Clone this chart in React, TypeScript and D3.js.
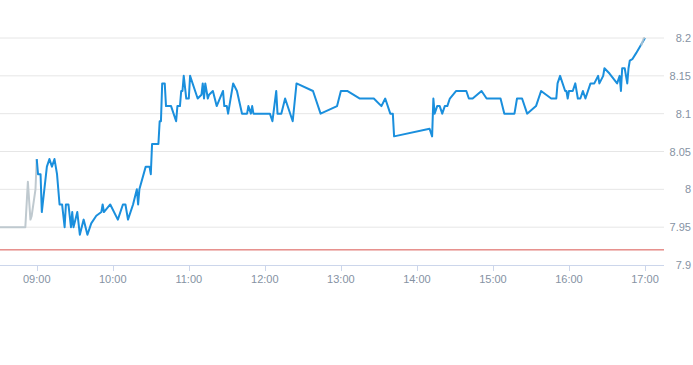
import React from "react";
import * as d3 from "d3";

// Pre-market (gray) series: [time, price]
const preTimes = ["08:31", "08:51", "08:53", "08:55", "08:56", "08:59", "09:00"];
const preValues = [7.95, 7.95, 8.01, 7.96, 7.965, 8.0, 8.04];

// Post segment (gray, overlapping the end)
const postTimes = ["16:57", "16:59", "17:00"];
const postValues = [8.19, 8.2, 8.2];

// Main session (blue): minutes after 09:00 and price
const mainMinutes = [
  0, 1, 3, 4, 8, 10, 12, 14, 16, 18, 20, 22, 23, 25, 27, 28, 29, 32, 34, 37, 40, 43, 47, 51, 52, 53, 58,
  64, 68, 70, 72, 76, 79, 80, 81, 86, 89, 90, 91, 96, 97, 98, 99, 101, 102, 106, 110, 111, 113, 114, 115,
  116, 118, 120, 121, 125, 127, 130, 131, 132, 133, 135, 136, 139, 142, 147, 148, 150, 151, 155, 158, 162,
  166, 167, 169, 170, 171, 184, 186, 189, 190, 193, 196, 202, 205, 218, 224, 237, 240, 245, 255, 266, 272,
  275, 279, 281, 282, 310, 312, 313, 314, 316, 318, 320, 322, 324, 326, 331, 339, 341, 344, 351, 355, 366,
  369, 377, 379, 383, 387, 394, 398, 406, 410, 411, 413, 417, 418, 419, 420, 423, 425, 427, 429, 431, 433,
  437, 440, 443, 444, 447, 448, 452, 458, 460, 461, 462, 464, 466, 467, 468, 470, 473, 480,
];
const mainValues = [
  8.04, 8.02, 8.02, 7.97, 8.03, 8.04, 8.03, 8.04, 8.02, 7.98, 7.98, 7.95, 7.98, 7.98, 7.95, 7.97, 7.95,
  7.97, 7.94, 7.96, 7.94, 7.955, 7.965, 7.97, 7.98, 7.97, 7.98, 7.96, 7.98, 7.98, 7.96, 7.98, 8.0, 7.98,
  8.0, 8.03, 8.03, 8.02, 8.06, 8.06, 8.09, 8.09, 8.14, 8.14, 8.11, 8.11, 8.09, 8.11, 8.11, 8.13, 8.13,
  8.15, 8.12, 8.12, 8.15, 8.13, 8.12, 8.125, 8.14, 8.12, 8.14, 8.12, 8.125, 8.13, 8.11, 8.13, 8.11, 8.11,
  8.1, 8.14, 8.13, 8.1, 8.1, 8.11, 8.1, 8.11, 8.1, 8.1, 8.09, 8.13, 8.1, 8.1, 8.12, 8.09, 8.14, 8.13, 8.1,
  8.11, 8.13, 8.13, 8.12, 8.12, 8.11, 8.12, 8.1, 8.1, 8.07, 8.08, 8.07, 8.12, 8.1, 8.11, 8.11, 8.1, 8.11,
  8.11, 8.12, 8.13, 8.13, 8.12, 8.12, 8.13, 8.12, 8.12, 8.1, 8.1, 8.12, 8.12, 8.1, 8.11, 8.13, 8.12, 8.12,
  8.14, 8.15, 8.13, 8.13, 8.12, 8.13, 8.13, 8.14, 8.12, 8.12, 8.13, 8.12, 8.14, 8.14, 8.15, 8.14, 8.15,
  8.16, 8.153, 8.14, 8.15, 8.13, 8.16, 8.16, 8.14, 8.16, 8.17, 8.172, 8.18, 8.2,
];

const refLevel = 7.92;
const yTicks = [7.9, 7.95, 8.0, 8.05, 8.1, 8.15, 8.2];
const yTickLabels = ["7.9", "7.95", "8", "8.05", "8.1", "8.15", "8.2"];
const xTickLabels = ["09:00", "10:00", "11:00", "12:00", "13:00", "14:00", "15:00", "16:00", "17:00"];
const domainStart = "08:31";
const domainEnd = "17:15";

const W = 693;
const H = 365;

const toMin = (s: string) => {
  const [h, m] = s.split(":").map(Number);
  return h * 60 + m;
};

export default function App() {
  const plotLeft = 0;
  const plotRight = 664;
  const plotTop = 38;
  const plotBottom = 265;

  const x = d3.scaleLinear().domain([toMin(domainStart), toMin(domainEnd)]).range([plotLeft, plotRight]);
  const y = d3.scaleLinear().domain([7.9, 8.2]).range([plotBottom, plotTop]);

  const line = d3
    .line<[number, number]>()
    .x((d) => x(d[0]))
    .y((d) => y(d[1]));

  const pre: [number, number][] = preTimes.map((t, i) => [toMin(t), preValues[i]]);
  const post: [number, number][] = postTimes.map((t, i) => [toMin(t), postValues[i]]);
  const main: [number, number][] = mainMinutes.map((m, i) => [toMin("09:00") + m, mainValues[i]]);

  const font = "'Liberation Sans', Arial, sans-serif";
  const labelColor = "#8592a3";

  return (
    <svg
      width={W}
      height={H}
      style={{ position: "absolute", left: 0, top: 0, background: "#fff" }}
      fontFamily={font}
    >
      {yTicks.map((v, i) => (
        <g key={v}>
          {i > 0 && (
            <line x1={plotLeft} x2={plotRight} y1={y(v)} y2={y(v)} stroke="#e6e6e6" strokeWidth={1} />
          )}
          <text x={691} y={y(v) + 4} textAnchor="end" fontSize={11} fill={labelColor}>
            {yTickLabels[i]}
          </text>
        </g>
      ))}
      <line x1={plotLeft} x2={plotRight} y1={plotBottom + 0.5} y2={plotBottom + 0.5} stroke="#ccd6eb" strokeWidth={1} />
      {xTickLabels.map((t) => (
        <g key={t}>
          <line
            x1={Math.round(x(toMin(t))) + 0.5}
            x2={Math.round(x(toMin(t))) + 0.5}
            y1={plotBottom}
            y2={plotBottom + 6}
            stroke="#ccd6eb"
          />
          <text x={x(toMin(t))} y={plotBottom + 18} textAnchor="middle" fontSize={11} fill={labelColor}>
            {t}
          </text>
        </g>
      ))}
      <line x1={plotLeft} x2={plotRight} y1={y(refLevel)} y2={y(refLevel)} stroke="#d9534f" strokeWidth={1} />
      <path d={line(pre) || ""} fill="none" stroke="#bfc9cf" strokeWidth={2} strokeLinejoin="round" />
      <path d={line(main) || ""} fill="none" stroke="#1a8fdd" strokeWidth={2} strokeLinejoin="round" />
      <path d={line(post) || ""} fill="none" stroke="#bfc9cf" strokeWidth={2} strokeLinejoin="round" opacity={0.8} />
    </svg>
  );
}
